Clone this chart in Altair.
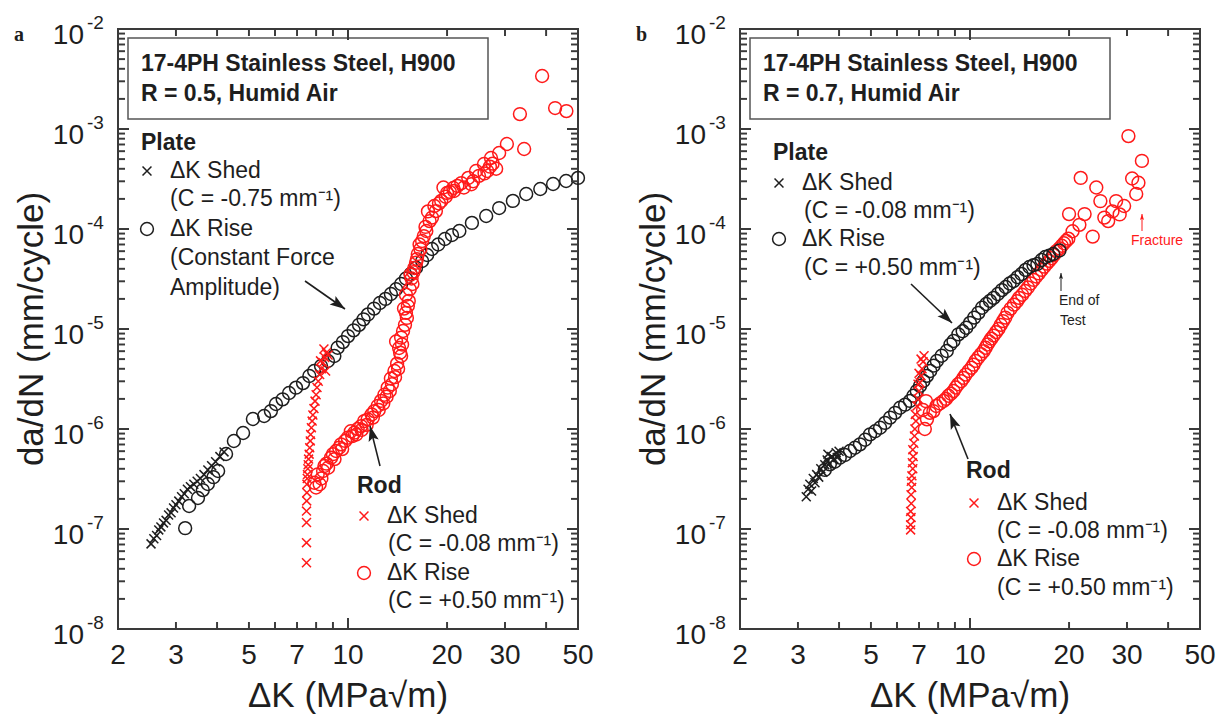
import math
import altair as alt
import pandas as pd

# Fatigue crack growth, 17-4PH H900 in humid air.
# Each entry: (delta K [MPa*sqrt(m)], da/dN [mm/cycle])

# ---- panel a: R = 0.5 ----
A_PLATE_SHED = [
    (2.52, 7.1e-8), (2.57, 8.0e-8), (2.62, 8.6e-8), (2.66, 9.8e-8), (2.70, 1.05e-7),
    (2.75, 1.15e-7), (2.80, 1.22e-7), (2.85, 1.38e-7), (2.90, 1.45e-7), (2.95, 1.62e-7),
    (3.00, 1.75e-7), (3.06, 1.90e-7), (3.12, 2.10e-7), (3.18, 2.25e-7), (3.25, 2.50e-7),
    (3.32, 2.65e-7), (3.40, 2.80e-7), (3.48, 3.00e-7), (3.56, 3.20e-7), (3.65, 3.50e-7),
    (3.75, 3.90e-7), (3.85, 4.30e-7), (3.96, 4.70e-7), (4.08, 5.30e-7), (4.20, 5.90e-7),
]
A_PLATE_RISE = [
    (3.20, 1.02e-7), (3.29, 1.70e-7), (3.50, 2.04e-7), (3.62, 2.45e-7), (3.75, 2.82e-7),
    (3.90, 3.30e-7), (4.03, 3.80e-7), (4.26, 5.62e-7), (4.50, 7.59e-7), (4.80, 9.12e-7),
    (5.14, 1.26e-6), (5.56, 1.35e-6), (5.83, 1.51e-6), (6.04, 1.78e-6), (6.33, 1.98e-6),
    (6.62, 2.29e-6), (6.95, 2.59e-6), (7.30, 2.88e-6), (7.63, 3.39e-6), (7.89, 3.80e-6),
    (8.28, 4.27e-6), (8.69, 4.79e-6), (9.09, 5.37e-6), (9.30, 6.50e-6), (9.65, 7.40e-6),
    (10.0, 8.50e-6), (10.4, 9.70e-6), (10.8, 1.10e-5), (11.15, 1.25e-5), (11.5, 1.40e-5),
    (12.0, 1.60e-5), (12.5, 1.82e-5), (13.0, 2.00e-5), (13.5, 2.24e-5), (14.0, 2.50e-5),
    (14.5, 2.82e-5), (15.0, 3.20e-5), (15.5, 3.55e-5), (16.1, 4.10e-5), (16.8, 4.79e-5),
    (17.4, 5.50e-5), (18.0, 6.31e-5), (18.8, 7.00e-5), (19.7, 7.94e-5), (20.7, 8.70e-5),
    (21.8, 9.55e-5), (23.8, 1.15e-4), (26.3, 1.35e-4), (28.8, 1.62e-4), (31.7, 1.91e-4),
    (34.8, 2.24e-4), (38.4, 2.51e-4), (42.0, 2.82e-4), (46.0, 3.02e-4), (50.0, 3.24e-4),
]
A_ROD_SHED = [
    (7.48, 4.6e-8), (7.48, 7.3e-8), (7.48, 1.16e-7), (7.48, 1.51e-7), (7.49, 1.91e-7),
    (7.50, 2.31e-7), (7.50, 2.80e-7), (7.52, 3.20e-7), (7.53, 3.50e-7), (7.55, 4.00e-7),
    (7.57, 4.40e-7), (7.59, 5.00e-7), (7.62, 5.60e-7), (7.65, 6.50e-7), (7.68, 7.60e-7),
    (7.70, 8.80e-7), (7.74, 1.03e-6), (7.78, 1.20e-6), (7.82, 1.38e-6), (7.88, 1.60e-6),
    (7.94, 1.90e-6), (8.00, 2.20e-6), (8.05, 2.60e-6), (8.12, 3.00e-6), (8.20, 3.50e-6),
    (8.30, 4.00e-6), (8.40, 4.60e-6), (8.50, 5.20e-6), (8.60, 5.80e-6), (8.70, 5.50e-6),
    (8.45, 6.30e-6), (8.25, 4.80e-6), (8.55, 3.80e-6),
]
A_ROD_RISE = [
    (7.90, 2.90e-7), (8.00, 2.60e-7), (8.09, 3.52e-7), (8.20, 2.80e-7), (8.30, 3.20e-7),
    (8.40, 3.80e-7), (8.48, 4.27e-7), (8.60, 4.50e-7), (8.70, 4.10e-7), (8.88, 5.17e-7),
    (9.00, 5.60e-7), (9.10, 5.00e-7), (9.20, 6.03e-7), (9.40, 6.50e-7), (9.52, 7.03e-7),
    (9.60, 6.30e-7), (9.80, 7.60e-7), (9.98, 8.18e-7), (10.2, 9.50e-7), (10.3, 8.50e-7),
    (10.46, 9.20e-7), (10.6, 8.80e-7), (10.7, 1.00e-6), (10.96, 1.07e-6), (11.0, 9.80e-7),
    (11.2, 1.20e-6), (11.4, 1.10e-6), (11.48, 1.25e-6), (11.8, 1.40e-6), (11.9, 1.30e-6),
    (12.02, 1.51e-6), (12.3, 1.70e-6), (12.4, 1.55e-6), (12.6, 1.91e-6), (12.8, 1.80e-6),
    (12.9, 2.20e-6), (13.1, 2.10e-6), (13.2, 2.59e-6), (13.4, 2.40e-6), (13.5, 3.20e-6),
    (13.6, 2.80e-6), (13.84, 3.80e-6), (13.9, 3.30e-6), (14.1, 4.50e-6), (14.2, 4.00e-6),
    (14.4, 5.80e-6), (14.5, 5.37e-6), (14.3, 6.46e-6), (14.6, 7.00e-6), (14.0, 7.50e-6),
    (14.5, 8.20e-6), (14.7, 9.55e-6), (14.9, 1.10e-5), (15.1, 1.29e-5), (15.0, 1.45e-5),
    (14.8, 1.60e-5), (15.2, 1.70e-5), (15.3, 1.91e-5), (15.0, 2.20e-5), (15.4, 2.50e-5),
    (15.7, 2.82e-5), (15.6, 3.20e-5), (15.5, 3.50e-5), (15.8, 3.70e-5), (15.9, 4.07e-5),
    (16.1, 4.60e-5), (16.2, 5.00e-5), (16.3, 5.62e-5), (16.6, 6.30e-5), (16.5, 7.00e-5),
    (16.8, 7.59e-5), (17.0, 8.50e-5), (17.3, 9.55e-5), (17.2, 1.05e-4), (17.7, 1.20e-4),
    (18.0, 1.30e-4), (17.5, 1.50e-4), (18.5, 1.51e-4), (18.3, 1.70e-4), (18.9, 1.80e-4),
    (19.2, 1.91e-4), (19.8, 2.10e-4), (19.5, 2.60e-4), (20.0, 2.29e-4), (20.4, 2.35e-4),
    (20.9, 2.57e-4), (21.0, 2.40e-4), (21.5, 2.70e-4), (22.1, 2.88e-4), (22.5, 2.60e-4),
    (23.2, 3.24e-4), (23.7, 2.80e-4), (24.0, 3.00e-4), (24.5, 3.80e-4), (25.0, 3.40e-4),
    (25.9, 4.47e-4), (26.0, 3.60e-4), (26.5, 3.80e-4), (27.0, 4.20e-4), (27.2, 5.13e-4),
    (27.5, 4.50e-4), (28.2, 4.00e-4), (28.8, 5.75e-4), (30.4, 7.08e-4), (34.3, 6.31e-4),
    (33.3, 1.41e-3), (38.9, 3.39e-3), (42.6, 1.62e-3), (46.1, 1.51e-3),
]

# ---- panel b: R = 0.7 ----
B_PLATE_SHED = [
    (3.18, 2.1e-7), (3.22, 2.5e-7), (3.26, 2.8e-7), (3.30, 2.4e-7), (3.34, 3.2e-7),
    (3.38, 2.9e-7), (3.42, 3.5e-7), (3.47, 3.3e-7), (3.52, 4.0e-7), (3.57, 3.7e-7),
    (3.62, 4.4e-7), (3.68, 4.9e-7), (3.74, 4.5e-7), (3.80, 5.3e-7), (3.86, 5.0e-7),
    (3.92, 5.8e-7), (4.00, 6.0e-7), (3.70, 5.6e-7), (3.95, 5.2e-7),
]
B_PLATE_RISE = [
    (3.62, 3.9e-7), (3.75, 4.43e-7), (3.88, 4.7e-7), (4.02, 5.17e-7), (4.17, 5.5e-7),
    (4.32, 6.03e-7), (4.47, 6.5e-7), (4.63, 7.03e-7), (4.80, 7.8e-7), (4.97, 8.85e-7),
    (5.15, 9.5e-7), (5.33, 1.03e-6), (5.52, 1.15e-6), (5.72, 1.30e-6), (5.92, 1.45e-6),
    (6.13, 1.63e-6), (6.35, 1.75e-6), (6.57, 1.91e-6), (6.73, 2.15e-6), (6.89, 2.40e-6),
    (7.05, 2.7e-6), (7.22, 3.02e-6), (7.40, 3.4e-6), (7.57, 3.80e-6), (7.75, 4.3e-6),
    (7.93, 4.79e-6), (8.20, 5.4e-6), (8.50, 6.03e-6), (8.72, 7.0e-6), (8.91, 7.59e-6),
    (9.22, 8.85e-6), (9.50, 9.5e-6), (9.74, 1.03e-5), (10.0, 1.15e-5), (10.3, 1.30e-5),
    (10.6, 1.45e-5), (10.88, 1.63e-5), (11.2, 1.78e-5), (11.5, 1.91e-5), (11.8, 2.05e-5),
    (12.15, 2.24e-5), (12.5, 2.45e-5), (12.84, 2.63e-5), (13.2, 2.85e-5), (13.57, 3.02e-5),
    (13.95, 3.3e-5), (14.34, 3.55e-5), (14.75, 3.9e-5), (15.16, 4.17e-5), (15.6, 4.35e-5),
    (16.02, 4.47e-5), (16.5, 4.9e-5), (16.93, 5.25e-5), (17.4, 5.4e-5), (17.9, 5.62e-5),
    (18.7, 6.1e-5),
]
B_ROD_SHED = [
    (6.60, 9.8e-8), (6.60, 1.1e-7), (6.62, 1.3e-7), (6.60, 1.5e-7), (6.63, 1.8e-7),
    (6.62, 2.2e-7), (6.65, 2.6e-7), (6.63, 3.0e-7), (6.66, 3.4e-7), (6.70, 4.0e-7),
    (6.68, 4.6e-7), (6.72, 5.3e-7), (6.70, 6.2e-7), (6.75, 7.2e-7), (6.78, 8.5e-7),
    (6.80, 1.0e-6), (6.85, 1.2e-6), (6.82, 1.4e-6), (6.90, 1.7e-6), (6.95, 2.0e-6),
    (7.00, 2.4e-6), (7.05, 2.9e-6), (7.10, 3.4e-6), (7.15, 4.0e-6), (7.20, 4.7e-6),
    (7.25, 5.4e-6), (7.00, 3.6e-6), (7.10, 5.0e-6), (6.95, 2.8e-6),
]
B_ROD_RISE = [
    (7.29, 1.0e-6), (7.40, 1.25e-6), (7.20, 1.55e-6), (7.35, 1.9e-6), (7.55, 1.45e-6),
    (7.74, 1.51e-6), (7.90, 1.7e-6), (8.10, 1.8e-6), (8.31, 1.91e-6), (8.45, 2.0e-6),
    (8.60, 2.15e-6), (8.75, 2.25e-6), (8.91, 2.4e-6), (9.05, 2.6e-6), (9.20, 2.8e-6),
    (9.40, 3.0e-6), (9.55, 3.24e-6), (9.70, 3.5e-6), (9.90, 3.8e-6), (10.1, 4.1e-6),
    (10.25, 4.4e-6), (10.4, 4.8e-6), (10.6, 5.2e-6), (10.8, 5.6e-6), (11.0, 6.0e-6),
    (11.15, 6.5e-6), (11.3, 7.0e-6), (11.45, 7.5e-6), (11.6, 8.0e-6), (11.8, 8.6e-6),
    (12.0, 9.3e-6), (12.2, 1.0e-5), (12.4, 1.1e-5), (12.6, 1.2e-5), (12.8, 1.3e-5),
    (13.0, 1.45e-5), (13.3, 1.6e-5), (13.6, 1.75e-5), (13.9, 1.9e-5), (14.1, 2.05e-5),
    (14.4, 2.2e-5), (14.7, 2.4e-5), (15.0, 2.6e-5), (15.3, 2.85e-5), (15.6, 3.1e-5),
    (15.9, 3.35e-5), (16.2, 3.6e-5), (16.5, 3.9e-5), (16.8, 4.2e-5), (17.1, 4.5e-5),
    (17.4, 4.8e-5), (17.7, 5.1e-5), (18.0, 5.5e-5), (18.3, 6.0e-5), (18.7, 6.4e-5),
    (19.0, 6.8e-5), (19.3, 7.2e-5), (19.6, 7.6e-5), (19.9, 8.0e-5), (20.5, 9.5e-5),
    (20.0, 1.41e-4), (21.7, 3.24e-4), (22.3, 1.41e-4), (21.5, 1.1e-4), (23.6, 8.4e-5),
    (24.2, 2.6e-4), (24.9, 1.9e-4), (25.6, 1.3e-4), (26.3, 1.2e-4), (27.1, 1.5e-4),
    (27.8, 1.9e-4), (28.5, 1.4e-4), (29.4, 1.7e-4), (30.3, 8.5e-4), (31.1, 3.2e-4),
    (32.0, 2.24e-4), (32.5, 2.9e-4), (33.3, 4.8e-4),
]

# ---- axes ----
X_TICK_LABELS = [2, 3, 5, 7, 10, 20, 30, 50]
X_MINOR = [3, 4, 5, 6, 7, 8, 9, 20, 30, 40]
X_MAJOR = [10]
Y_DECADES = [-2, -3, -4, -5, -6, -7, -8]
Y_MAJOR = [10.0 ** e for e in Y_DECADES]
Y_MINOR = [k * 10.0 ** e for e in range(-8, -2) for k in range(2, 10)]

W, H = 460, 600
FONT = "Liberation Sans"
INK = "#1e1e1e"
RED = "#ff1a1a"
FRAME = "#3a3a3a"

XS = alt.Scale(type="log", domain=[2, 50], nice=False)
YS = alt.Scale(type="log", domain=[1e-8, 1e-2], nice=False)

CROSS = "M-1,-1L1,1M-1,1L1,-1"
HEAD = "M0,0L-0.75,2.2L0,1.75L0.75,2.2Z"
ONE = pd.DataFrame({"k": [0]})

CIRCLE_SIZE = 165
CROSS_SIZE = 80
MARK_STROKE = 1.5


def bar_path(direction, half):
    # filled sliver that starts at the frame edge and points into the plot
    h = f"{half:.3f}"
    return {
        "right": f"M0,-{h}L2,-{h}L2,{h}L0,{h}Z",
        "left": f"M0,-{h}L-2,-{h}L-2,{h}L0,{h}Z",
        "up": f"M-{h},0L{h},0L{h},-2L-{h},-2Z",
        "down": f"M-{h},0L{h},0L{h},2L-{h},2Z",
    }[direction]


# (glyph size, half thickness in path units): minor ~7 px long, major ~11 px long, both ~2 px thick
MINOR_TICK = (49, 0.28)
MAJOR_TICK = (121, 0.18)


def scatter(points, shape, color, size):
    df = pd.DataFrame(points, columns=["dk", "rate"])
    return alt.Chart(df).mark_point(
        shape=shape, filled=False, color=color, size=size, strokeWidth=MARK_STROKE, opacity=1
    ).encode(
        x=alt.X("dk:Q", scale=XS, axis=None),
        y=alt.Y("rate:Q", scale=YS, axis=None),
    )


def tick_layers():
    layers = []

    def sliver(df, direction, spec, **enc):
        size, half = spec
        return alt.Chart(df).mark_point(
            shape=bar_path(direction, half), filled=True, color=FRAME, size=size,
            strokeWidth=0, opacity=1,
        ).encode(**enc)

    for vals, spec in ((Y_MINOR, MINOR_TICK), (Y_MAJOR, MAJOR_TICK)):
        df = pd.DataFrame({"v": vals, "lab": [str(v) for v in vals]})
        y = alt.Y("v:Q", scale=YS, axis=None)
        layers.append(sliver(df, "right", spec, y=y, x=alt.value(0)))
        layers.append(sliver(df, "left", spec, y=y, x=alt.value(W)))
    for vals, spec in ((X_MINOR, MINOR_TICK), (X_MAJOR, MAJOR_TICK)):
        df = pd.DataFrame({"v": vals, "lab": [str(v) for v in vals]})
        x = alt.X("v:Q", scale=XS, axis=None)
        layers.append(sliver(df, "up", spec, x=x, y=alt.value(H)))
        layers.append(sliver(df, "down", spec, x=x, y=alt.value(0)))
    return layers


def label(x, y, text, size=23, bold=False, color=INK, align="left", font=FONT, angle=0):
    kw = dict(align=align, baseline="middle", font=font, fontSize=size, color=color,
              fontWeight="bold" if bold else "normal")
    if angle:
        kw["angle"] = angle
    return alt.Chart(ONE).mark_text(**kw).encode(
        x=alt.value(x), y=alt.value(y), text=alt.value(text))


def axis_text_layers():
    dec = pd.DataFrame({"v": Y_MAJOR, "e": [str(e) for e in Y_DECADES]})
    y = alt.Y("v:Q", scale=YS, axis=None)
    ten = alt.Chart(dec).mark_text(
        align="right", baseline="alphabetic", font=FONT, fontSize=28, color=INK, dy=15
    ).encode(y=y, x=alt.value(-34), text=alt.value("10"))
    sup = alt.Chart(dec).mark_text(
        align="left", baseline="alphabetic", font=FONT, fontSize=19, color=INK
    ).encode(y=y, x=alt.value(-31), text="e:N")
    xl = pd.DataFrame({"v": X_TICK_LABELS, "t": [str(v) for v in X_TICK_LABELS]})
    xt = alt.Chart(xl).mark_text(
        baseline="middle", font=FONT, fontSize=28, color=INK
    ).encode(x=alt.X("v:Q", scale=XS, axis=None), y=alt.value(H + 27), text="t:N")
    ytitle = label(-86, H / 2, "da/dN (mm/cycle)", size=35, align="center", angle=270)
    xtitle = label(W / 2, H + 67, "ΔK (MPa√m)", size=35, align="center")
    return [ten, sup, xt, ytitle, xtitle]


def key(x, y, shape, color, size):
    return alt.Chart(ONE).mark_point(
        shape=shape, filled=False, color=color, size=size, strokeWidth=MARK_STROKE, opacity=1
    ).encode(x=alt.value(x), y=alt.value(y))


def arrow(x0, y0, x1, y1, color=INK, head=190, width=1.6):
    ang = math.degrees(math.atan2(x1 - x0, y0 - y1)) % 360
    shaft = alt.Chart(ONE).mark_rule(color=color, strokeWidth=width).encode(
        x=alt.value(x0), y=alt.value(y0), x2=alt.value(x1), y2=alt.value(y1))
    tip = alt.Chart(ONE).mark_point(
        shape=HEAD, filled=True, color=color, size=head, angle=ang, opacity=1, strokeWidth=0
    ).encode(x=alt.value(x1), y=alt.value(y1))
    return [shaft, tip]


def info_box(line2):
    box = alt.Chart(ONE).mark_rect(fill="white", stroke="#555555", strokeWidth=1.5).encode(
        x=alt.value(10), x2=alt.value(370), y=alt.value(9), y2=alt.value(90))
    return [
        box,
        label(23, 35, "17-4PH Stainless Steel, H900", bold=True),
        label(23, 65, line2, bold=True),
    ]


def panel_tag(letter):
    return alt.Chart(ONE).mark_text(
        align="left", baseline="middle", font="Liberation Serif", fontSize=20,
        fontWeight="bold", color=INK
    ).encode(x=alt.value(-104), y=alt.value(6), text=alt.value(letter))


# ---- panel a ----
layers_a = (
    axis_text_layers()
    + [panel_tag("a")]
    + info_box("R = 0.5, Humid Air")
    + [
        scatter(A_PLATE_RISE, "circle", INK, CIRCLE_SIZE),
        scatter(A_PLATE_SHED, CROSS, INK, CROSS_SIZE),
        scatter(A_ROD_RISE, "circle", RED, CIRCLE_SIZE),
        scatter(A_ROD_SHED, CROSS, RED, CROSS_SIZE),
        label(23, 114, "Plate", bold=True),
        key(29, 142, CROSS, INK, CROSS_SIZE),
        label(52, 142, "ΔK Shed"),
        label(52, 170, "(C = -0.75 mm⁻¹)"),
        key(29, 200, "circle", INK, CIRCLE_SIZE),
        label(52, 200, "ΔK Rise"),
        label(52, 229, "(Constant Force"),
        label(52, 259, "Amplitude)"),
        label(239, 457, "Rod", bold=True),
        key(246, 487, CROSS, RED, CROSS_SIZE),
        label(269, 487, "ΔK Shed"),
        label(270, 515, "(C = -0.08 mm⁻¹)"),
        key(246, 544, "circle", RED, CIRCLE_SIZE),
        label(269, 544, "ΔK Rise"),
        label(270, 572, "(C = +0.50 mm⁻¹)"),
    ]
    + arrow(187, 252, 227, 280)
    + arrow(262, 437, 252, 397)
    + tick_layers()
)

# ---- panel b ----
layers_b = (
    axis_text_layers()
    + [panel_tag("b")]
    + info_box("R = 0.7, Humid Air")
    + [
        scatter(B_ROD_RISE, "circle", RED, CIRCLE_SIZE),
        scatter(B_PLATE_RISE, "circle", INK, CIRCLE_SIZE),
        scatter(B_PLATE_SHED, CROSS, INK, CROSS_SIZE),
        scatter(B_ROD_SHED, CROSS, RED, CROSS_SIZE),
        label(33, 124, "Plate", bold=True),
        key(39, 154, CROSS, INK, CROSS_SIZE),
        label(62, 154, "ΔK Shed"),
        label(64, 182, "(C = -0.08 mm⁻¹)"),
        key(39, 210, "circle", INK, CIRCLE_SIZE),
        label(62, 210, "ΔK Rise"),
        label(64, 239, "(C = +0.50 mm⁻¹)"),
        label(226, 442, "Rod", bold=True),
        key(234, 474, CROSS, RED, CROSS_SIZE),
        label(257, 474, "ΔK Shed"),
        label(257, 502, "(C = -0.08 mm⁻¹)"),
        key(234, 530, "circle", RED, CIRCLE_SIZE),
        label(257, 530, "ΔK Rise"),
        label(257, 559, "(C = +0.50 mm⁻¹)"),
        label(319, 272, "End of", size=14),
        label(320, 292, "Test", size=14),
        label(391, 212, "Fracture", size=14, color=RED),
    ]
    + arrow(171, 255, 212, 294)
    + arrow(228, 430, 210, 385)
    + arrow(321, 262, 321, 244, head=30, width=1.0)
    + arrow(402, 202, 402, 185, color=RED, head=30, width=1.0)
    + tick_layers()
)

panel_a = alt.layer(*layers_a).properties(width=W, height=H)
panel_b = alt.layer(*layers_b).properties(width=W, height=H)

chart = (
    alt.hconcat(panel_a, panel_b, spacing=40)
    .properties(padding={"left": 13, "top": 13, "right": 0, "bottom": 0})
    .configure_view(stroke=FRAME, strokeWidth=2)
)

chart.save("out.html", embed_options={"renderer": "svg", "actions": False})
